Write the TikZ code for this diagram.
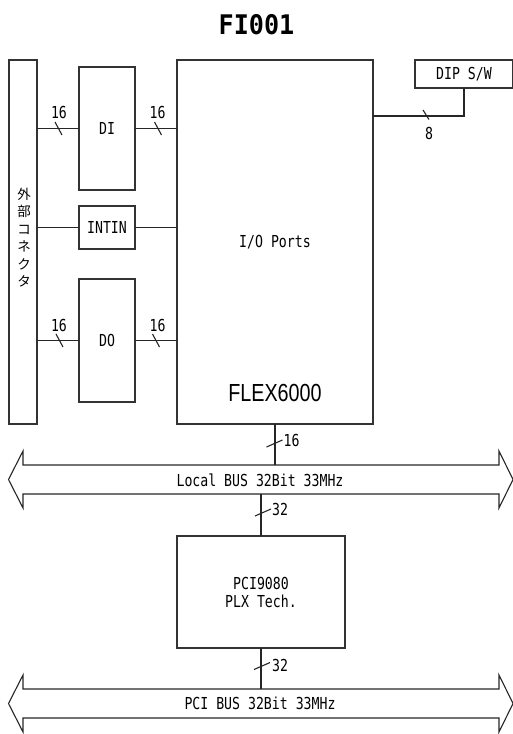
\documentclass[tikz,border=0pt]{standalone}
\usepackage{fontspec}
\newfontfamily\gmono[FakeStretch=0.8]{DejaVu Sans Mono}
\newfontfamily\gtitle[FakeStretch=0.93]{DejaVu Sans Mono Bold}
\newfontfamily\gflex[FakeStretch=0.8]{Liberation Sans}
\newfontfamily\jpfont{Noto Sans CJK JP}
\begin{document}
\begin{tikzpicture}[x=1pt,y=-1pt,
  box/.style={draw=black!80, line width=1.1pt, inner sep=0pt, outer sep=0pt, font=\gmono\fontsize{16.5}{20}\selectfont},
  wire/.style={draw=black!85, line width=1.1pt},
  slashln/.style={draw=black!85, line width=1.1pt},
  lbl/.style={font=\gmono\fontsize{16.5}{20}\selectfont, inner sep=0pt}]
\useasboundingbox (0,0) rectangle (513,734);
% title
\node[font=\gtitle\fontsize{27}{30}\selectfont, inner sep=0pt] (title) at (256.5,25) {FI001};
% boxes
\node[box, minimum width=28, minimum height=364] (conn) at (23,242) {};
\node[font=\jpfont\fontsize{13.5}{17.5}\selectfont, align=center, inner sep=0pt] (connlbl) at (24,237.5) {外\\部\\コ\\ネ\\ク\\タ};
\node[box, minimum width=56, minimum height=123] (di) at (107,128.5) {DI};
\node[box, minimum width=56, minimum height=43] (intin) at (107,227.5) {INTIN};
\node[box, minimum width=56, minimum height=123] (do) at (107,340.5) {DO};
\node[box, minimum width=196, minimum height=364] (flex) at (275,242) {};
\node[lbl] (ioports) at (275,242) {I/O Ports};
\node[font=\gflex\fontsize{24.7}{28}\selectfont, inner sep=0pt] (flexlbl) at (275,393) {FLEX6000};
\node[box, minimum width=98, minimum height=28] (dip) at (464,74) {DIP S/W};
\node[box, align=center, minimum width=168, minimum height=112, font=\gmono\fontsize{16.5}{18}\selectfont] (pci) at (261,592) {PCI9080\\PLX Tech.};
% buses
\draw[wire] (8.5,479.5) -- (23,451) -- (23,465) -- (499,465) -- (499,451) -- (513,479.5) -- (499,508) -- (499,494) -- (23,494) -- (23,508) -- cycle;
\node[lbl] (lbus) at (260,480) {Local BUS 32Bit 33MHz};
\coordinate (lbT) at (275,465);
\coordinate (lbB) at (261,494);
\draw[wire] (8.5,703.5) -- (23,675) -- (23,689) -- (499,689) -- (499,675) -- (513,703.5) -- (499,732) -- (499,718) -- (23,718) -- (23,732) -- cycle;
\node[lbl] (pbus) at (260,703.5) {PCI BUS 32Bit 33MHz};
\coordinate (pbT) at (261,689);
% connectors
\draw[wire] (conn.east |- di.west) -- (di.west);
\draw[wire] (di.east) -- (flex.west |- di.east);
\draw[wire] (conn.east |- intin.west) -- (intin.west);
\draw[wire] (intin.east) -- (flex.west |- intin.east);
\draw[wire] (conn.east |- do.west) -- (do.west);
\draw[wire] (do.east) -- (flex.west |- do.east);
\coordinate (dipc) at (464,116);
\draw[wire] (flex.east |- dipc) -- (dipc) -- (dip.south);
\draw[wire] (flex.south) -- (lbT);
\draw[wire] (lbB) -- (pci.north);
\draw[wire] (pci.south) -- (pbT);
% bus-width marks
\draw[slashln] (58.5,128.5) +(-3.5,-6.5) -- +(3.5,6.5);
\node[lbl] (w1) at (59,112.5) {16};
\draw[slashln] (158,128.5) +(-3.5,-6.5) -- +(3.5,6.5);
\node[lbl] (w2) at (157.5,112.5) {16};
\draw[slashln] (59.5,340.5) +(-3.5,-6.5) -- +(3.5,6.5);
\node[lbl] (w3) at (59,325) {16};
\draw[slashln] (156,340.5) +(-3.5,-6.5) -- +(3.5,6.5);
\node[lbl] (w4) at (157.5,325) {16};
\draw[slashln] (426,115.5) +(-3,-5.5) -- +(3,4);
\node[lbl] (w5) at (429,133) {8};
\draw[slashln] (274.5,443.5) +(-8,3.5) -- +(8,-3.5);
\node[lbl] (w6) at (291.5,440.5) {16};
\draw[slashln] (263,512.5) +(-8,3.5) -- +(8,-3.5);
\node[lbl] (w7) at (280,509.5) {32};
\draw[slashln] (262,666) +(-8,3.5) -- +(8,-3.5);
\node[lbl] (w8) at (280,665) {32};
\end{tikzpicture}
\end{document}
